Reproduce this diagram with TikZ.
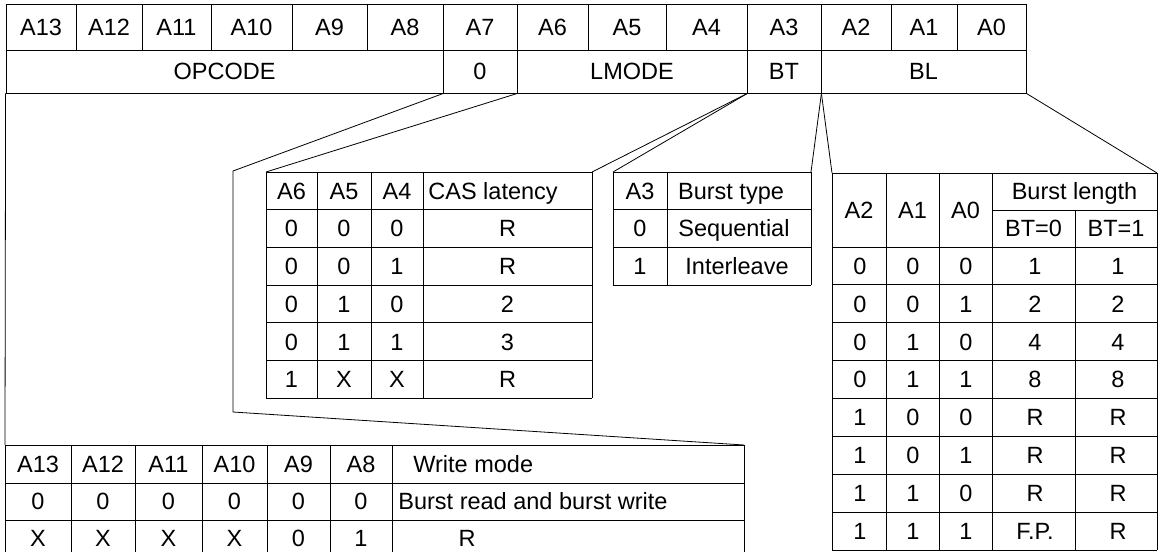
\documentclass[tikz,border=0pt]{standalone}
\usepackage{fontspec}
\setmainfont{Liberation Sans}
\begin{document}
\begin{tikzpicture}[x=1pt,y=-1pt,line width=0.8pt,
    txt/.style={inner sep=0pt,text height=16.8pt,text depth=0pt,font=\fontsize{23.5}{27}\selectfont},
    field/.style={txt,draw,minimum height=43pt}]
  \useasboundingbox (0,0) rectangle (1164,552);
  % mode register, address bits
  \foreach \l/\r/\t in {6/76/A13,76/142/A12,142/211/A11,211/292/A10,292/367/A9,367/443/A8,443/517/A7,
      517/588/A6,588/666/A5,666/747/A4,747/821/A3,821/891/A2,891/957/A1,957/1026/A0}{
    \draw (\l,4) rectangle (\r,50);
    \node[txt] (reg\t) at ({(\l+\r)/2},27) {\t};}
  % mode register, fields
  \foreach \l/\r/\t/\n in {6/443/OPCODE/opcode,443/517/0/zero,517/747/LMODE/lmode,747/821/BT/bt,821/1026/BL/bl}{
    \pgfmathsetmacro\w{\r-\l}
    \node[field,minimum width=\w pt] (\n) at ({(\l+\r)/2},71.5) {\t};}

  % CAS latency table
  \foreach \x in {266,317,371,423,592} \draw (\x,172) -- (\x,398.2);
  \foreach \k in {0,...,6} \draw (266,{172+37.7*\k}) -- (592,{172+37.7*\k});
  \coordinate (cas-nw) at (266,172); \coordinate (cas-ne) at (592,172);
  \node[txt] (casA6) at (291.5,191) {A6};
  \node[txt] (casA5) at (344,191) {A5};
  \node[txt] (casA4) at (397,191) {A4};
  \node[txt,anchor=west] (cashead) at (428,191) {CAS latency};
  \foreach \a/\b/\c/\v [count=\i] in {0/0/0/R,0/0/1/R,0/1/0/2,0/1/1/3,1/X/X/R}{
    \pgfmathsetmacro\yy{172+37.7*(\i+0.5)}
    \node[txt] (cas\i a) at (291.5,\yy) {\a};
    \node[txt] (cas\i b) at (344,\yy) {\b};
    \node[txt] (cas\i c) at (397,\yy) {\c};
    \node[txt] (cas\i v) at (507.5,\yy) {\v};}

  % burst type table
  \foreach \x in {613,667,811} \draw (\x,172) -- (\x,285.1);
  \foreach \k in {0,...,3} \draw (613,{172+37.7*\k}) -- (811,{172+37.7*\k});
  \coordinate (bst-nw) at (613,172); \coordinate (bst-ne) at (811,172);
  \node[txt] (bstA3) at (640,191) {A3};
  \node[txt] (bsthead) at (731,191) {Burst type};
  \node[txt] (bst1a) at (640,228.5) {0};
  \node[txt] (bst1v) at (734,228.5) {Sequential};
  \node[txt] (bst2a) at (640,266.2) {1};
  \node[txt] (bst2v) at (737,266.2) {Interleave};

  % burst length table
  \foreach \x in {832,886,939,992,1157} \draw (\x,173) -- (\x,550);
  \draw (1075,210) -- (1075,550);
  \draw (992,210) -- (1157,210);
  \draw (832,173) -- (1157,173);
  \foreach \k in {0,...,8} \draw (832,{247+37.875*\k}) -- (1157,{247+37.875*\k});
  \coordinate (bln-nw) at (832,173); \coordinate (bln-ne) at (1157,173);
  \node[txt] (blnA2) at (859,210) {A2};
  \node[txt] (blnA1) at (912.5,210) {A1};
  \node[txt] (blnA0) at (965.5,210) {A0};
  \node[txt] (blnhead) at (1074.5,191.5) {Burst length};
  \node[txt] (blnbt0) at (1033.5,228.5) {BT=0};
  \node[txt] (blnbt1) at (1116,228.5) {BT=1};
  \foreach \a/\b/\c/\u/\v [count=\i] in {0/0/0/1/1,0/0/1/2/2,0/1/0/4/4,0/1/1/8/8,
      1/0/0/R/R,1/0/1/R/R,1/1/0/R/R,1/1/1/F.P./R}{
    \pgfmathsetmacro\yy{247+37.875*(\i-0.5)}
    \node[txt] (bln\i a) at (860,\yy) {\a};
    \node[txt] (bln\i b) at (913,\yy) {\b};
    \node[txt] (bln\i c) at (966,\yy) {\c};
    \node[txt] (bln\i u) at (1035,\yy) {\u};
    \node[txt] (bln\i v) at (1118,\yy) {\v};}

  % write mode table
  \foreach \x in {5,71,135,202,267,330,392,744} \draw (\x,445) -- (\x,552);
  \foreach \y in {445,483,520} \draw (5,\y) -- (744,\y);
  \coordinate (wm-nw) at (5,445); \coordinate (wm-ne) at (744,445);
  \foreach \x/\t in {38/A13,103/A12,168.5/A11,234.5/A10,298.5/A9,361/A8}
    \node[txt] (wm\t) at (\x,464) {\t};
  \node[txt,anchor=west] (wmhead) at (413,464) {Write mode};
  \foreach \x/\a/\b [count=\i] in {38/0/X,103/0/X,168.5/0/X,234.5/0/X,298.5/0/0,361/0/1}{
    \node[txt] (wm1\i) at (\x,501.5) {\a};
    \node[txt] (wm2\i) at (\x,538.5) {\b};}
  \node[txt,anchor=west] (wm1v) at (398,501.5) {Burst read and burst write};
  \node[txt] (wm2v) at (467,538.5) {R};

  % fan-out lines
  \coordinate (bend-top) at (233,171);
  \coordinate (bend-bot) at (233,412);
  \draw (opcode.south west) -- (wm-nw);
  \draw (opcode.south east) -- (bend-top) -- (bend-bot) -- (wm-ne);
  \draw (zero.south east) -- (cas-nw);
  \draw (lmode.south east) -- (cas-ne);
  \draw (lmode.south east) -- (bst-nw);
  \draw (bt.south east) -- (bst-ne);
  \draw (bt.south east) -- (bln-nw);
  \draw (bl.south east) -- (bln-ne);
\end{tikzpicture}
\end{document}
